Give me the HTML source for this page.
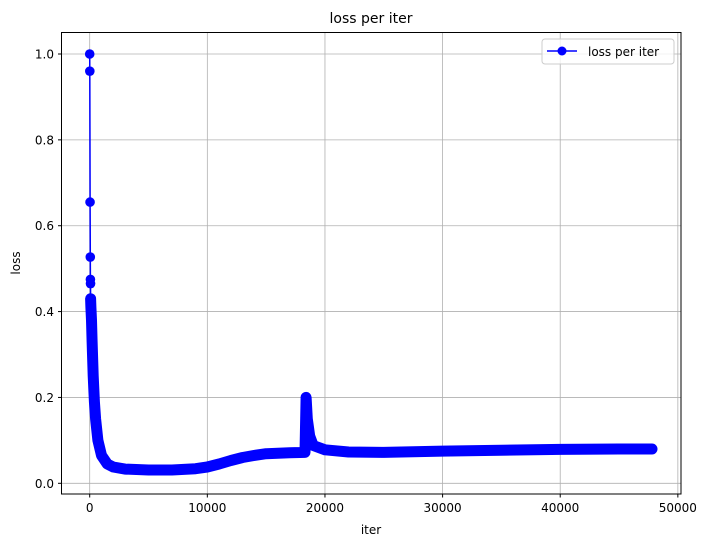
<!DOCTYPE html>
<html><head><meta charset="utf-8"><style>
body{margin:0;background:#fff}
svg text{font-family:"DejaVu Sans","Liberation Sans",sans-serif;fill:#000}
</style></head><body>
<svg id="chart" width="708" height="547" viewBox="0 0 708 547">
<rect width="708" height="547" fill="#fff"/>
<g id="grid"></g>
<g id="ticks"></g>
<g id="series"></g>
<rect x="61.5" y="32.5" width="619.5" height="461.5" fill="none" stroke="#000" stroke-width="1"/>
<text x="371" y="23" font-size="14" text-anchor="middle">loss per iter</text>
<text x="371" y="534" font-size="12" text-anchor="middle">iter</text>
<text x="20" y="263" font-size="12" text-anchor="middle" transform="rotate(-90 20 263)">loss</text>
<g>
<rect x="542" y="39" width="132" height="25" rx="3" fill="#fff" fill-opacity="0.8" stroke="#ccc"/>
<line x1="547" y1="51" x2="577" y2="51" stroke="#0000ff" stroke-width="1.5"/>
<circle cx="562" cy="51" r="4.5" fill="#0000ff"/>
<text x="588" y="56" font-size="12">loss per iter</text>
</g>
</svg>
<script>
const iters = [0,10,30,50,60,70,80,100,150,200,300,400,500,700,1000,1500,2000,3000,5000,7000,9000,10000,11000,12000,13000,14000,15000,17000,18300,18400,18500,18700,19000,20000,22000,25000,30000,35000,40000,45000,47800];
const losses = [1.0,0.96,0.655,0.527,0.475,0.465,0.43,0.41,0.38,0.33,0.25,0.19,0.15,0.1,0.065,0.045,0.038,0.033,0.031,0.031,0.034,0.038,0.045,0.053,0.06,0.065,0.069,0.071,0.072,0.2,0.15,0.11,0.088,0.078,0.073,0.072,0.075,0.077,0.079,0.08,0.08];
const xTicks = [0,10000,20000,30000,40000,50000];
const yTicks = [0.0,0.2,0.4,0.6,0.8,1.0];
const NS='http://www.w3.org/2000/svg';
function xs(v){return 89.7+v*0.011763;}
function ys(v){return 483.3-v*429.3;}
const grid=document.getElementById('grid'),ticks=document.getElementById('ticks'),ser=document.getElementById('series');
function mk(tag,attrs,parent){const e=document.createElementNS(NS,tag);for(const k in attrs)e.setAttribute(k,attrs[k]);parent.appendChild(e);return e;}
xTicks.forEach(t=>{
  const x=xs(t);
  const g=mk('line',{x1:x,x2:x,y1:32.5,y2:494,stroke:'#b0b0b0','stroke-width':0.8},grid);
  
  
  mk('line',{x1:x,x2:x,y1:494,y2:497.5,stroke:'#000'},ticks);
  const tx=mk('text',{x:x,y:512,'font-size':12,'text-anchor':'middle'},ticks);
  tx.textContent=String(t);
  
  
});
yTicks.forEach(t=>{
  const y=ys(t);
  const g=mk('line',{x1:61.5,x2:681,y1:y,y2:y,stroke:'#b0b0b0','stroke-width':0.8},grid);
  
  
  mk('line',{x1:58,x2:61.5,y1:y,y2:y,stroke:'#000'},ticks);
  const tx=mk('text',{x:54,y:y+4.5,'font-size':12,'text-anchor':'end'},ticks);
  tx.textContent=t.toFixed(1);
  
  
});
// thin connecting line
const pts=iters.map((v,i)=>xs(v).toFixed(1)+','+ys(losses[i]).toFixed(1)).join(' ');
const thin=mk('polyline',{points:pts,fill:'none',stroke:'#0000ff','stroke-width':1.5},ser);


// dense band (overlapping markers)
const dense=iters.map((v,i)=>({v,l:losses[i]})).filter(p=>p.v>=80);
const band=mk('polyline',{points:dense.map(p=>xs(p.v).toFixed(1)+','+ys(p.l).toFixed(1)).join(' '),fill:'none',stroke:'#0000ff','stroke-width':11,'stroke-linejoin':'round','stroke-linecap':'round'},ser);


iters.forEach((v,i)=>{
  const c=mk('circle',{cx:xs(v),cy:ys(losses[i]),r:4.8,fill:'#0000ff'},ser);
  
  
});
</script>
</body></html>
